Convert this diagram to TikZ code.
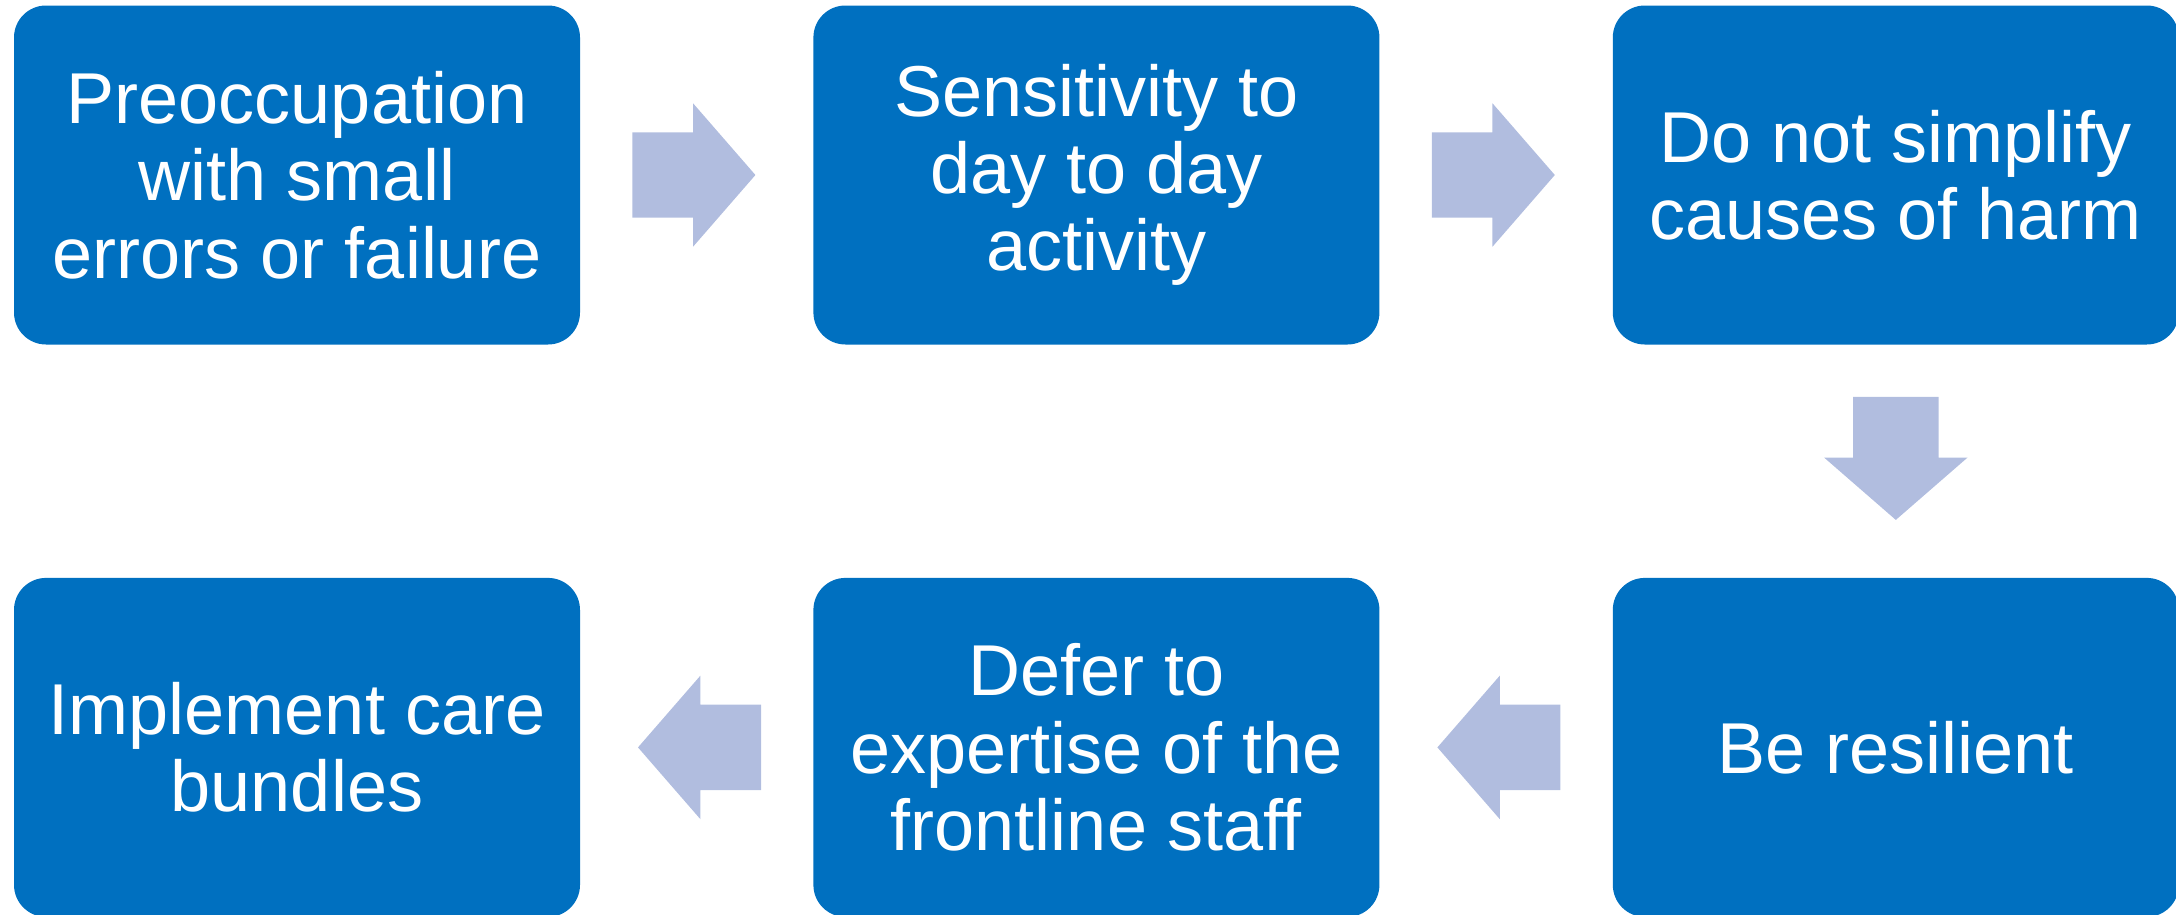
\documentclass[tikz,border=0pt]{standalone}
\usepackage{fontspec}
\setmainfont{Liberation Sans}
\usetikzlibrary{positioning,shapes.arrows,calc}
\definecolor{boxblue}{RGB}{0,112,192}
\definecolor{arrowblue}{RGB}{177,189,223}
\begin{document}
\begin{tikzpicture}[node distance={23.2mm},
  main/.style = {fill=boxblue, text=white, rounded corners=3.2mm, minimum width=56.6mm, minimum height=33.9mm, align=center, font=\fontsize{20.5}{22}\selectfont},
  flow/.style = {single arrow, fill=arrowblue, anchor=tail, minimum height=12.3mm, inner xsep=0pt, inner ysep=4.2mm, single arrow head extend=2.9mm, single arrow tip angle=98}]
  \useasboundingbox (0,0) rectangle (21.76,9.14);
  \node[main] (1) at (2.97,7.39) {Preoccupation\\with small\\errors or failure};
  \node[main] (2) [right=of 1] {Sensitivity to\\day to day\\activity};
  \node[main] (3) [right=of 2] {Do not simplify\\causes of harm};
  \node[main] (4) [below=of 3] {Be resilient};
  \node[main] (5) [left=of 4] {Defer to\\expertise of the\\frontline staff};
  \node[main] (6) [left=of 5] {Implement care\\bundles};
  \node[flow] (1-2) at ([xshift=5.1mm]1.east) {};
  \node[flow] (2-3) at ([xshift=5.1mm]2.east) {};
  \node[flow, rotate=270] (3-4) at ([yshift=-5.1mm]3.south) {};
  \node[flow, rotate=180] (4-5) at ([xshift=-5.1mm]4.west) {};
  \node[flow, rotate=180] (5-6) at ([xshift=-5.1mm]5.west) {};
\end{tikzpicture}
\end{document}
